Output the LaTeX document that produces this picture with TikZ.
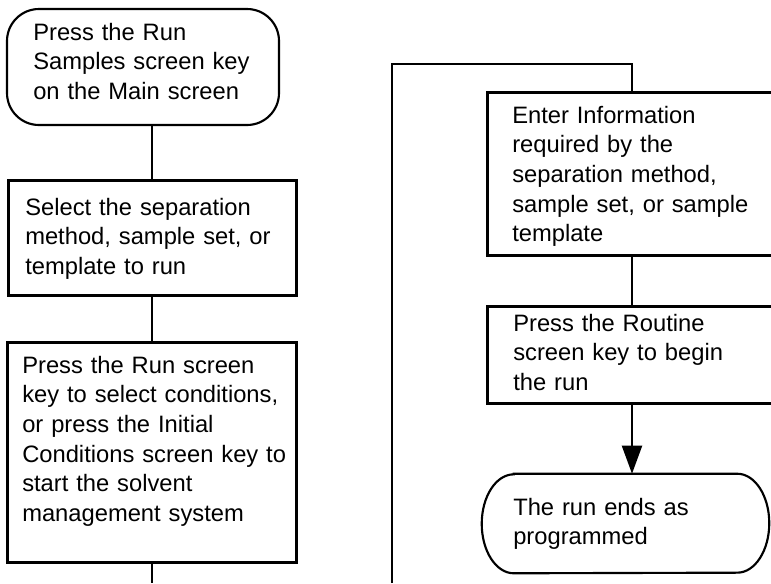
\documentclass[tikz,border=0pt]{standalone}
\usepackage{fontspec}
\setmainfont{Liberation Sans}
\usetikzlibrary{fit,arrows.meta}
\tikzset{
  boxrect/.style={draw, line width=2.25pt, inner sep=0pt, rectangle},
  boxround/.style={draw, line width=1.6pt, inner sep=0pt, rounded corners=24pt},
  boxplain/.style={inner sep=0pt},
  txt/.style={anchor=base west, inner sep=0pt, text width=260pt, align=left,
    font=\fontsize{17.8}{22.3}\selectfont},
  conn/.style={line width=1.5pt},
  arrowconn/.style={line width=1.5pt, -{Triangle[length=21pt,width=15pt]}}
}
\begin{document}
\begin{tikzpicture}[x=0.75pt,y=0.75pt]
\useasboundingbox (0,0) rectangle (771,-583);
\clip (0,0) rectangle (771,-583);
\fill[white] (0,0) rectangle (771,-583);
% left column
\node[boxround, fit={(7,-9) (279,-125)}] (start) {};
\node[txt] (tstart) at (33,-40) {Press the Run\\Samples screen key\\on the Main screen};
\node[boxrect, fit={(8,-180) (296,-295)}] (b2) {};
\node[txt] (tb2) at (25,-215) {Select the separation\\method, sample set, or\\template to run};
\node[boxrect, fit={(7,-342) (296,-562)}] (b3) {};
\node[txt] (tb3) at (22,-373) {Press the Run screen\\key to select conditions,\\or press the Initial\\Conditions screen key to\\start the solvent\\management system};
\coordinate (bot) at (152,-583);
\draw[conn] (b2.north) -- (b2.north |- start.south);
\draw[conn] (b2.south -| bot) -- (b3.north -| bot);
\draw[conn] (b3.south -| bot) -- (bot);
% right column
\coordinate (lb) at (392,-583);
\coordinate (lt) at (632,-64);
\node[boxrect, fit={(487,-92) (800,-255)}] (b4) {};
\node[txt] (tb4) at (512,-123) {Enter Information\\required by the\\separation method,\\sample set, or sample\\template};
\node[boxrect, fit={(487,-306) (800,-403)}] (b5) {};
\node[txt] (tb5) at (513,-331) {Press the Routine\\screen key to begin\\the run};
\node[boxplain, fit={(482,-474) (769,-573)}] (term) {};
\draw[line width=1.6pt] ([xshift=24pt]term.north west) -- ([xshift=-24pt]term.north east)
  arc[start angle=90, end angle=-90, x radius=24pt, y radius=37.1pt]
  -- ([xshift=24pt]term.south west)
  arc[start angle=270, end angle=90, x radius=24pt, y radius=37.1pt] -- cycle;
\node[txt] (tterm) at (513,-515) {The run ends as\\programmed};
\draw[conn] (lb) |- (lt) -- (lt |- b4.north);
\draw[conn] (b4.south -| lt) -- (b5.north -| lt);
\draw[arrowconn] (b5.south -| lt) -- (term.north -| lt);
\end{tikzpicture}
\end{document}
